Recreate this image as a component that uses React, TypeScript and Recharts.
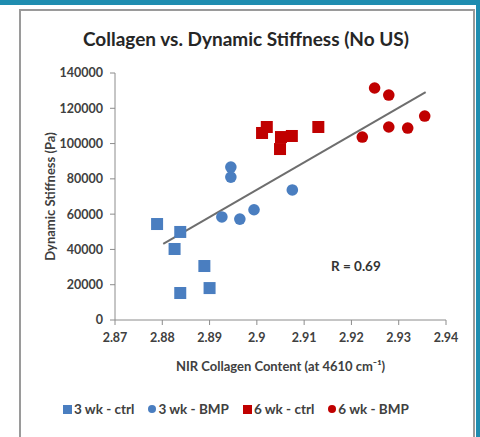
import React from "react";
import { ScatterChart, Scatter, XAxis, YAxis, ReferenceLine } from "recharts";

const xTicks = [2.87, 2.88, 2.89, 2.9, 2.91, 2.92, 2.93, 2.94];
const yTicks = [0, 20000, 40000, 60000, 80000, 100000, 120000, 140000];

const wk3Ctrl = [
  { x: 2.8789, y: 54400 },
  { x: 2.8838, y: 49900 },
  { x: 2.8826, y: 40250 },
  { x: 2.8889, y: 30600 },
  { x: 2.89, y: 18100 },
  { x: 2.8838, y: 15300 },
];
const wk3Bmp = [
  { x: 2.8926, y: 58400 },
  { x: 2.8964, y: 57200 },
  { x: 2.8994, y: 62500 },
  { x: 2.8945, y: 86700 },
  { x: 2.8945, y: 81000 },
  { x: 2.9075, y: 73700 },
];
const wk6Ctrl = [
  { x: 2.9021, y: 109400 },
  { x: 2.9011, y: 106000 },
  { x: 2.9051, y: 103700 },
  { x: 2.9074, y: 104300 },
  { x: 2.9049, y: 96900 },
  { x: 2.913, y: 109400 },
];
const wk6Bmp = [
  { x: 2.9249, y: 131500 },
  { x: 2.9279, y: 127500 },
  { x: 2.9223, y: 103700 },
  { x: 2.9279, y: 109400 },
  { x: 2.9319, y: 108800 },
  { x: 2.9355, y: 115600 },
];
const trend = [
  { x: 2.8802, y: 43100 },
  { x: 2.9357, y: 129200 },
];

const BLUE = "#4a7ec0";
const RED = "#c00000";
const FONT = "Lato, 'Open Sans', sans-serif";

const Square = (color: string) => (props: any) => {
  const { cx, cy } = props;
  return <rect x={cx - 6} y={cy - 6} width={12} height={12} fill={color} />;
};
const Dot = (color: string) => (props: any) => {
  const { cx, cy } = props;
  return <circle cx={cx} cy={cy} r={5.8} fill={color} />;
};

const legendItems = [
  { label: "3 wk - ctrl", color: BLUE, square: true },
  { label: "3 wk - BMP", color: BLUE, square: false },
  { label: "6 wk - ctrl", color: RED, square: true },
  { label: "6 wk - BMP", color: RED, square: false },
];

export default function App() {
  return (
    <div
      style={{
        position: "absolute",
        left: 0,
        top: 0,
        width: 480,
        height: 437,
        background: "#ffffff",
        overflow: "hidden",
        fontFamily: FONT,
      }}
    >
      <div style={{ position: "absolute", left: 0, top: 0, width: 480, height: 5, background: "#1f8db0" }} />
      <div style={{ position: "absolute", left: 476, top: 0, width: 4, height: 437, background: "#1f8db0" }} />
      <div
        style={{
          position: "absolute",
          left: 19,
          top: 9,
          width: 452,
          height: 440,
          border: "2px solid #9a9a9a",
        }}
      />
      <div
        style={{
          position: "absolute",
          left: 0,
          width: 492,
          top: 27,
          textAlign: "center",
          fontSize: 19,
          fontWeight: 700,
          color: "#262626",
        }}
      >
        Collagen vs. Dynamic Stiffness (No US)
      </div>
      <div style={{ position: "absolute", left: 0, top: 0 }}>
        <ScatterChart
          width={480}
          height={437}
          margin={{ top: 73, right: 34, bottom: 65, left: 55 }}
        >
          <XAxis
            type="number"
            dataKey="x"
            domain={[2.87, 2.94]}
            ticks={xTicks}
            allowDataOverflow
            height={52}
            tickSize={5}
            tickMargin={8}
            stroke="#8c8c8c"
            tick={{ fill: "#404040", fontSize: 12.5, fontWeight: 700, fontFamily: FONT }}
            label={{
              value: "NIR Collagen Content (at 4610 cm\u207B\u00B9)",
              position: "insideBottom",
              offset: 1,
              style: { fill: "#404040", fontSize: 13, fontWeight: 700, fontFamily: FONT },
            }}
          />
          <YAxis
            type="number"
            dataKey="y"
            domain={[0, 140000]}
            ticks={yTicks}
            width={60}
            tickSize={5}
            tickMargin={7}
            stroke="#8c8c8c"
            tick={{ fill: "#404040", fontSize: 12.5, fontWeight: 700, fontFamily: FONT }}
            label={{
              value: "Dynamic Stiffness (Pa)",
              angle: -90,
              position: "insideLeft",
              offset: -5,
              style: { textAnchor: "middle", fill: "#404040", fontSize: 13, fontWeight: 700, fontFamily: FONT },
            }}
          />
          <ReferenceLine
            segment={[trend[0], trend[1]]}
            stroke="#6e6e6e"
            strokeWidth={2}
            ifOverflow="visible"
          />
          <Scatter data={wk3Ctrl} shape={Square(BLUE)} isAnimationActive={false} />
          <Scatter data={wk3Bmp} shape={Dot(BLUE)} isAnimationActive={false} />
          <Scatter data={wk6Ctrl} shape={Square(RED)} isAnimationActive={false} />
          <Scatter data={wk6Bmp} shape={Dot(RED)} isAnimationActive={false} />
        </ScatterChart>
      </div>
      <div
        style={{
          position: "absolute",
          left: 331,
          top: 258,
          fontSize: 13.5,
          fontWeight: 700,
          color: "#333333",
        }}
      >
        R = 0.69
      </div>
      <div
        style={{
          position: "absolute",
          left: 63,
          top: 401,
          display: "flex",
          alignItems: "center",
          fontSize: 13.5,
          fontWeight: 700,
          color: "#404040",
        }}
      >
        {legendItems.map((it, i) => (
          <div key={i} style={{ display: "flex", alignItems: "center", marginRight: i < 3 ? 14 : 0 }}>
            <div
              style={{
                width: it.square ? 9 : 8,
                height: it.square ? 9 : 8,
                borderRadius: it.square ? 0 : 4,
                background: it.color,
                marginRight: 2,
              }}
            />
            <span>{it.label}</span>
          </div>
        ))}
      </div>
    </div>
  );
}
